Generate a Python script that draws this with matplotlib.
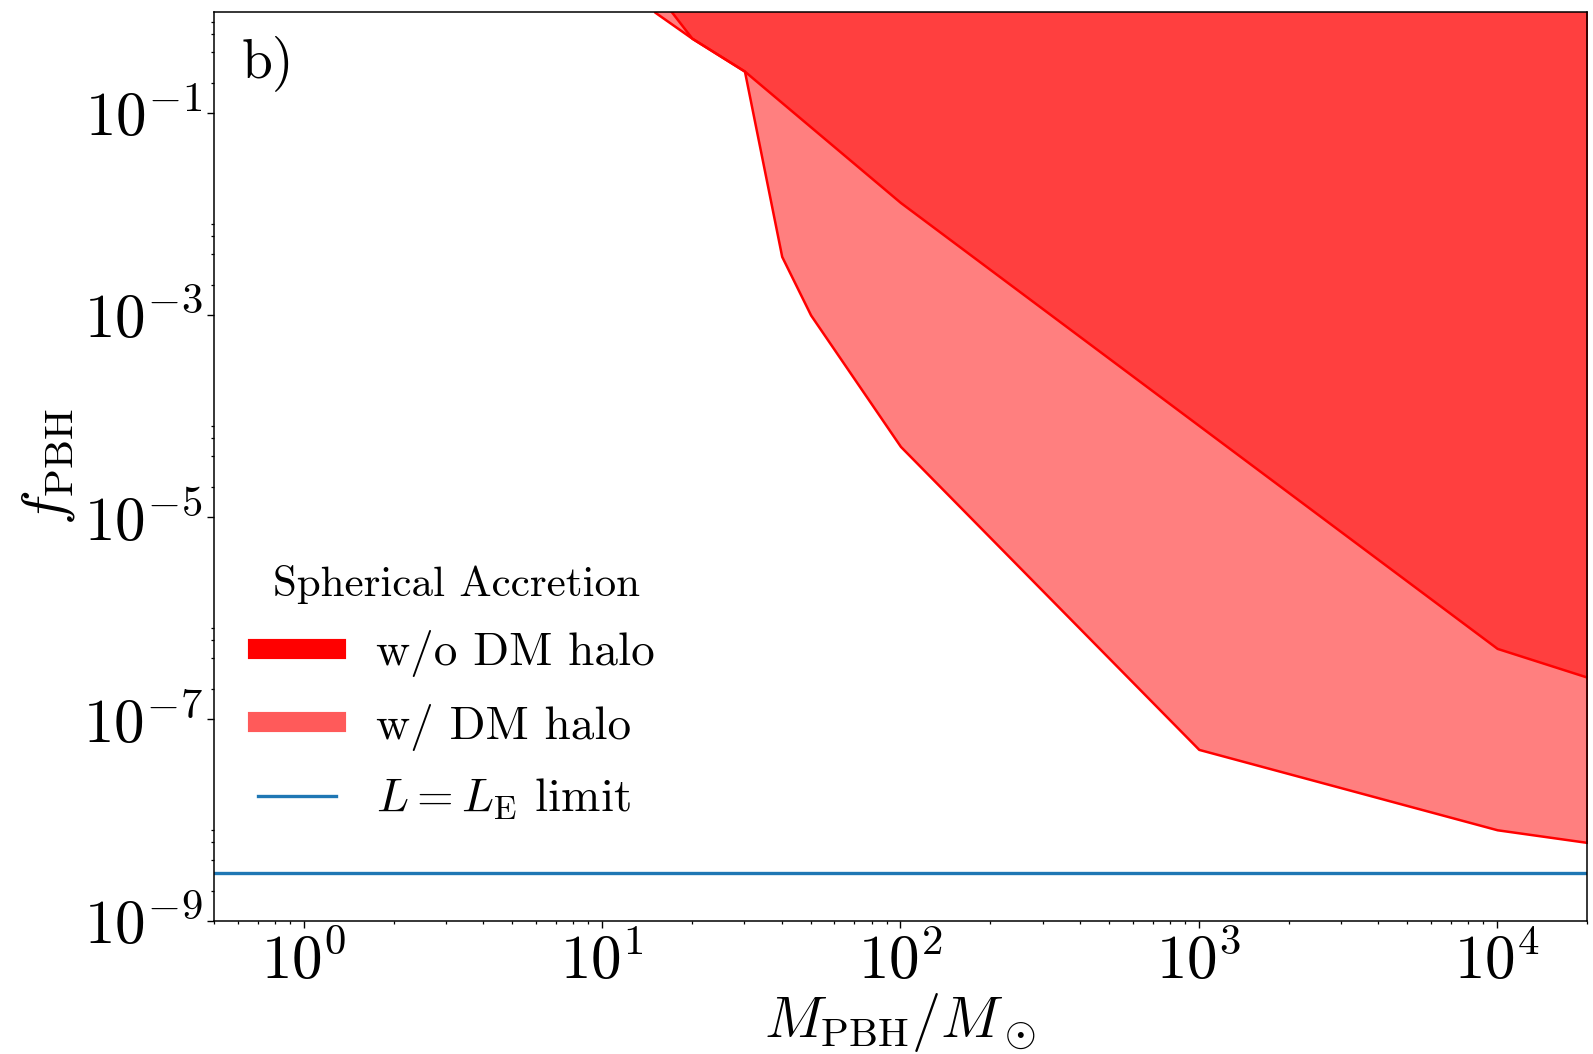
import numpy as np
import matplotlib
matplotlib.use('Agg')
import matplotlib.pyplot as plt
from matplotlib.lines import Line2D
from matplotlib.ticker import FixedLocator, LogLocator, NullFormatter

plt.rcParams['font.family'] = 'serif'
plt.rcParams['font.serif'] = ['cmr10']
plt.rcParams['mathtext.fontset'] = 'cm'
plt.rcParams['axes.unicode_minus'] = False
plt.rcParams['axes.formatter.use_mathtext'] = True

# PBH mass in solar masses
m_nohalo = [15, 20, 30, 100, 1e4, 2e4]
f_nohalo = [1.65, 0.55, 0.26, 0.013, 5e-7, 2.6e-7]

m_halo = [15, 20, 30, 40, 50, 100, 1e3, 1e4, 2e4]
f_halo = [1.0, 0.55, 0.26, 3.8e-3, 1e-3, 5e-5, 5e-8, 8e-9, 6e-9]

f_eddington = 3e-9

fig = plt.figure(figsize=(15.93, 10.54), dpi=100)
ax = fig.add_axes([0.1343, 0.1262, 0.8619, 0.8624])

ax.fill_between(m_halo, f_halo, 10, facecolor=(1, 0, 0, 0.5), edgecolor='red', lw=1.8)
ax.fill_between(m_nohalo, f_nohalo, 10, facecolor=(1, 0, 0, 0.5), edgecolor='red', lw=1.8)
ax.axhline(f_eddington, color='#1f77b4', lw=2.4)

ax.set_xscale('log')
ax.set_yscale('log')
ax.set_xlim(0.5, 2e4)
ax.set_ylim(1e-9, 1)

ax.yaxis.set_major_locator(FixedLocator([1e-9, 1e-7, 1e-5, 1e-3, 1e-1]))
ymin = [s * 10.0**k for k in range(-9, 0, 2) for s in (2, 4, 6, 8)]
ax.yaxis.set_minor_locator(FixedLocator(ymin))
ax.yaxis.set_minor_formatter(NullFormatter())
ax.xaxis.set_minor_locator(LogLocator(base=10, subs=np.arange(2, 10)))
ax.xaxis.set_minor_formatter(NullFormatter())

ax.tick_params(which='major', labelsize=44, length=4.8, width=1.0)
ax.tick_params(which='minor', length=2.4, width=0.9)
for s in ax.spines.values():
    s.set_linewidth(1.1)

ax.set_xlabel(r'$M_{\rm PBH}/M_\odot$', fontsize=42, labelpad=0)
ax.set_ylabel(r'$f_{\rm PBH}$', fontsize=42, labelpad=4)

ax.text(0.02, 0.975, 'b)', transform=ax.transAxes, fontsize=40, va='top', ha='left')

handles = [
    Line2D([], [], color='red', lw=14.5),
    Line2D([], [], color='#ff5a5a', lw=14.5),
    Line2D([], [], color='#1f77b4', lw=2.4),
]
labels = ['w/o DM halo', 'w/ DM halo', r'$L=L_{\rm E}$ limit']
leg = ax.legend(handles, labels, title='Spherical Accretion', loc='lower left',
                bbox_to_anchor=(0.001, 0.062), frameon=False, fontsize=34,
                title_fontsize=31, handlelength=1.65, labelspacing=0.56,
                handletextpad=0.85)

fig.savefig('out.png', dpi=100)
